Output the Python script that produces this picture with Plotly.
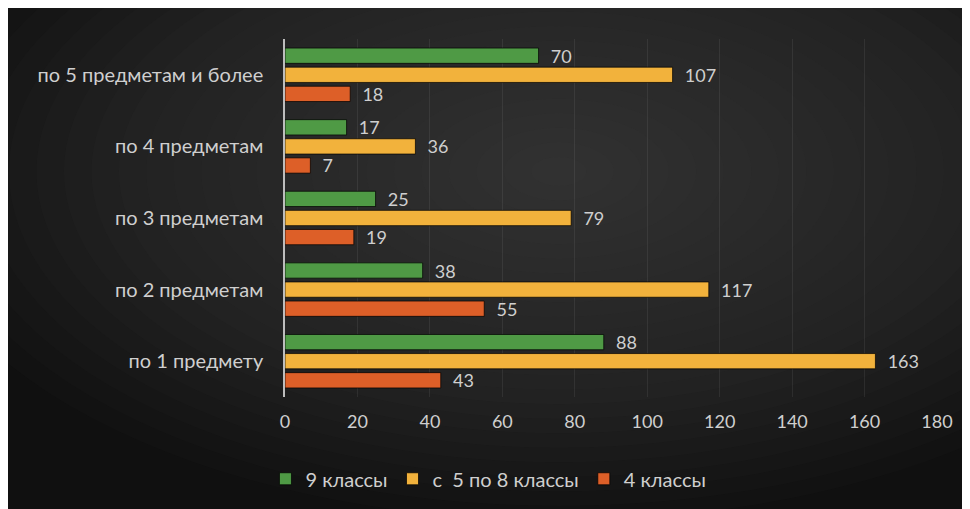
import plotly.graph_objects as go

# категории снизу вверх (как в оси Plotly)
categories = [
    "по 1 предмету",
    "по 2 предметам",
    "по 3 предметам",
    "по 4 предметам",
    "по 5 предметам и более",
]
grade_9 = [88, 38, 25, 17, 70]
grade_5_8 = [163, 117, 79, 36, 107]
grade_4 = [43, 55, 19, 7, 18]
x_ticks = [0, 20, 40, 60, 80, 100, 120, 140, 160, 180]

FONT = "Lato, 'Open Sans', sans-serif"
TEXT = "#cfcfcf"

# порядок трасс снизу вверх внутри группы: оранжевый, жёлтый, зелёный
series = [
    ("4 классы", grade_4, "#dd5f28"),
    ("с  5 по 8 классы", grade_5_8, "#f2b23c"),
    ("9 классы", grade_9, "#4f9a45"),
]

fig = go.Figure()
for name, vals, color in series:
    fig.add_trace(go.Bar(
        y=categories,
        x=vals,
        name=name,
        orientation="h",
        marker=dict(color=color, line=dict(color="rgba(0,0,0,0.7)", width=1)),
        text=[f"  {v}" for v in vals],
        textposition="outside",
        constraintext="none",
        textfont=dict(color=TEXT, size=18, family=FONT),
        cliponaxis=False,
    ))

# размеры области построения в пикселях (для подложки)
PW, PH = 652, 359

# радиальный «градиент» фона — набор полупрозрачных эллипсов
cx, cy = 0.42, 0.63
for k in range(24, 0, -1):
    rx = 660 * k / 24 / PW
    ry = 350 * k / 24 / PH
    fig.add_shape(type="circle", xref="paper", yref="paper",
                  x0=cx - rx, x1=cx + rx, y0=cy - ry, y1=cy + ry,
                  fillcolor="rgba(85,85,85,0.03)", line=dict(width=0),
                  layer="below")

# страница имеет отступ 8px — размеры фигуры уменьшены на него
fig.update_layout(
    width=962, height=501,
    margin=dict(l=277, r=33, t=31, b=111),
    paper_bgcolor="#101010",
    plot_bgcolor="rgba(0,0,0,0)",
    barmode="group",
    bargap=0.2,
    bargroupgap=0.2,
    font=dict(family=FONT, color=TEXT, size=18),
    legend=dict(
        orientation="h",
        traceorder="reversed",
        x=-0.03, xanchor="left",
        y=-0.225, yanchor="middle",
        bgcolor="rgba(0,0,0,0)",
        font=dict(size=20, color=TEXT),
        itemwidth=30,
    ),
)
fig.update_xaxes(
    range=[0, 180],
    tickvals=x_ticks,
    showgrid=True,
    gridcolor="rgba(255,255,255,0.07)",
    zeroline=False,
    ticklabelstandoff=12,
    tickfont=dict(size=18, color=TEXT),
)
fig.update_yaxes(
    showline=True,
    linecolor="#bdbdbd",
    linewidth=1.5,
    showgrid=False,
    ticklabelstandoff=16,
    tickfont=dict(size=20, color=TEXT),
)

fig.write_html("out.html")
